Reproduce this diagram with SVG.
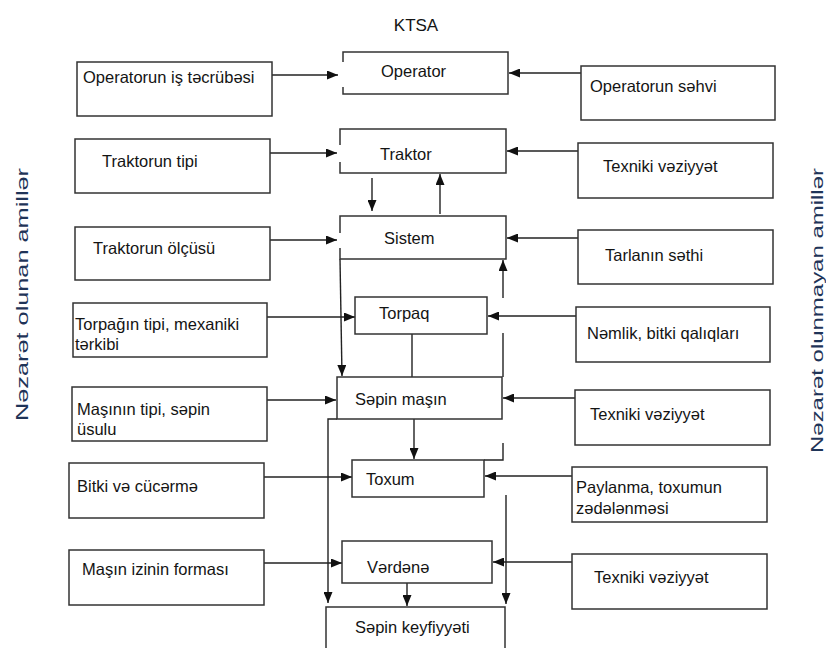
<svg xmlns="http://www.w3.org/2000/svg" width="826" height="648" viewBox="0 0 826 648">
<defs>
<marker id="ah" markerUnits="userSpaceOnUse" markerWidth="11" markerHeight="9" refX="11" refY="4.5" orient="auto">
<path d="M0,0 L11,4.5 L0,9 z" fill="#111"/>
</marker>
<style>
.box{fill:#fff;stroke:#333;stroke-width:1.5}
.t{font-family:"Liberation Sans",Arial,sans-serif;font-size:16.5px;fill:#141414}
.v{font-family:"Liberation Sans",Arial,sans-serif;fill:#1f3458}
.c line,.c path{stroke:#222;stroke-width:1.4;fill:none}
.a{marker-end:url(#ah)}
</style>
</defs>
<rect width="826" height="648" fill="#fff"/>
<text class="t" x="416" y="31" text-anchor="middle" style="font-size:17px">KTSA</text>
<text class="v" transform="translate(28,294.5) rotate(-90)" text-anchor="middle" font-size="17" textLength="253" lengthAdjust="spacingAndGlyphs">Nəzarət olunan amillər</text>
<text class="v" transform="translate(823,310.5) rotate(-90)" text-anchor="middle" font-size="16" textLength="285" lengthAdjust="spacingAndGlyphs">Nəzarət olunmayan amillər</text>

<g id="connectors" class="c">
<line class="a" x1="272" y1="75" x2="338" y2="75"/>
<line class="a" x1="270" y1="153" x2="337" y2="153"/>
<line class="a" x1="270" y1="240" x2="337" y2="240"/>
<line class="a" x1="267" y1="317" x2="355" y2="317"/>
<line class="a" x1="267" y1="400" x2="336" y2="400"/>
<line class="a" x1="264" y1="477" x2="352" y2="477"/>
<line class="a" x1="264" y1="563" x2="342" y2="563"/>
<line class="a" x1="581" y1="73" x2="509" y2="73"/>
<line class="a" x1="578" y1="151" x2="507" y2="151"/>
<line class="a" x1="578" y1="238" x2="507" y2="238"/>
<line class="a" x1="576" y1="316" x2="488" y2="316"/>
<line class="a" x1="575" y1="398" x2="503" y2="398"/>
<line class="a" x1="572" y1="476" x2="485" y2="476"/>
<line class="a" x1="572" y1="562" x2="493" y2="562"/>
<line class="a" x1="372" y1="178" x2="372" y2="211"/>
<line class="a" x1="440" y1="214" x2="440" y2="174"/>
<line class="a" x1="340" y1="259" x2="342" y2="376"/>
<line class="a" x1="503" y1="298" x2="503" y2="260"/>
<line x1="503" y1="333" x2="503" y2="377"/>
<line x1="412" y1="334" x2="412" y2="377"/>
<line class="a" x1="414" y1="419" x2="414" y2="459"/>
<path class="a" d="M337,419 H328 V603"/>
<path d="M503,443 V460 H484"/>
<line class="a" x1="506" y1="495" x2="506" y2="604"/>
<line class="a" x1="407" y1="583" x2="407" y2="606"/>
</g>

<g id="operator"><path class="box" style="fill:none" d="M343,62 V52 H508 V94 H343 V87"/><text class="t" x="381" y="77">Operator</text></g>
<g id="traktor"><path class="box" style="fill:none" d="M340,145 V129 H506 V173 H340 V162"/><text class="t" x="380" y="160">Traktor</text></g>
<g id="sistem"><path class="box" style="fill:none" d="M340,233 V216 H506 V259 H340 V248"/><text class="t" x="384" y="244">Sistem</text></g>
<g id="torpaq"><rect class="box" x="355" y="297" width="132" height="37"/><text class="t" x="379" y="319">Torpaq</text></g>
<g id="sepin-masin"><rect class="box" x="337" y="377" width="165" height="42"/><text class="t" x="355" y="405">Səpin maşın</text></g>
<g id="toxum"><rect class="box" x="352" y="460" width="132" height="37"/><text class="t" x="366" y="485">Toxum</text></g>
<g id="verdene"><rect class="box" x="342" y="541" width="150" height="42"/><text class="t" x="367" y="573">Vərdənə</text></g>
<g id="sepin-keyfiyyeti"><rect class="box" x="326" y="607" width="179" height="50"/><text class="t" x="355" y="633">Səpin keyfiyyəti</text></g>

<g id="operatorun-is-tecrubesi"><rect class="box" x="77" y="62" width="195" height="54"/><text class="t" x="83" y="83">Operatorun iş təcrübəsi</text></g>
<g id="traktorun-tipi"><rect class="box" x="75" y="139" width="195" height="54"/><text class="t" x="102" y="167">Traktorun tipi</text></g>
<g id="traktorun-olcusu"><rect class="box" x="75" y="227" width="195" height="53"/><text class="t" x="93" y="254">Traktorun ölçüsü</text></g>
<g id="torpagin-tipi"><rect class="box" x="73" y="303" width="194" height="54"/><text class="t" x="75" y="330">Torpağın tipi, mexaniki</text><text class="t" x="75" y="350">tərkibi</text></g>
<g id="masinin-tipi"><rect class="box" x="72" y="387" width="195" height="54"/><text class="t" x="77" y="415">Maşının tipi, səpin</text><text class="t" x="77" y="435">üsulu</text></g>
<g id="bitki-cucerme"><rect class="box" x="69" y="463" width="195" height="55"/><text class="t" x="77" y="492">Bitki və cücərmə</text></g>
<g id="masin-izi"><rect class="box" x="69" y="550" width="195" height="55"/><text class="t" x="82" y="575">Maşın izinin forması</text></g>

<g id="operatorun-sehvi"><rect class="box" x="581" y="66" width="194" height="54"/><text class="t" x="590" y="92">Operatorun səhvi</text></g>
<g id="texniki-1"><rect class="box" x="578" y="143" width="195" height="55"/><text class="t" x="603" y="172">Texniki vəziyyət</text></g>
<g id="tarla-sethi"><rect class="box" x="578" y="230" width="195" height="54"/><text class="t" x="605" y="261">Tarlanın səthi</text></g>
<g id="nemlik"><rect class="box" x="576" y="307" width="194" height="55"/><text class="t" x="587" y="339">Nəmlik, bitki qalıqları</text></g>
<g id="texniki-2"><rect class="box" x="575" y="390" width="195" height="55"/><text class="t" x="590" y="420">Texniki vəziyyət</text></g>
<g id="paylanma"><rect class="box" x="572" y="467" width="195" height="55"/><text class="t" x="576" y="493">Paylanma, toxumun</text><text class="t" x="576" y="514">zədələnməsi</text></g>
<g id="texniki-3"><rect class="box" x="572" y="554" width="195" height="55"/><text class="t" x="594" y="583">Texniki vəziyyət</text></g>
</svg>
